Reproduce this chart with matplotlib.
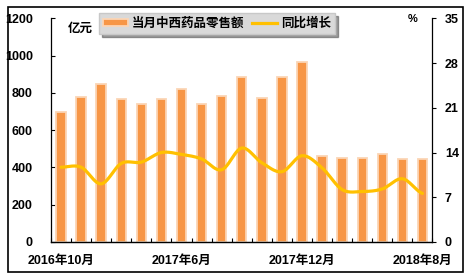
import numpy as np
import matplotlib
matplotlib.use('Agg')
import matplotlib.pyplot as plt
from matplotlib.patches import Rectangle
from matplotlib.lines import Line2D

plt.rcParams['font.family'] = ['Liberation Sans', 'Noto Sans CJK SC']
plt.rcParams['font.weight'] = 'bold'

months = ['2016年10月', '2016年11月', '2016年12月', '2017年3月', '2017年4月', '2017年5月',
          '2017年6月', '2017年7月', '2017年8月', '2017年9月', '2017年10月', '2017年11月',
          '2017年12月', '2018年3月', '2018年4月', '2018年5月', '2018年6月', '2018年7月',
          '2018年8月']
sales = [695, 780, 850, 765, 740, 765, 820, 740, 785, 885, 770, 883, 965,
         461, 452, 449, 472, 446, 446]
growth = [11.7, 11.7, 9.1, 12.3, 12.5, 14.0, 13.7, 13.0, 11.3, 14.7, 12.4, 11.0, 13.5,
          11.6, 8.2, 7.9, 8.3, 9.9, 7.6]
shown_labels = ['2016年10月', '2017年6月', '2017年12月', '2018年8月']
left_ticks = [0, 200, 400, 600, 800, 1000, 1200]
right_ticks = [0, 7, 14, 21, 28, 35]

BAR = '#F79646'
BAR_EDGE = '#FBD5B5'
LINE = '#FFC000'


def catmull_rom(x, y, n=24):
    x = np.asarray(x, float)
    y = np.asarray(y, float)
    xs, ys = [], []
    m = len(x)
    for i in range(m - 1):
        p0 = y[i - 1] if i > 0 else y[i]
        p1, p2 = y[i], y[i + 1]
        p3 = y[i + 2] if i + 2 < m else y[i + 1]
        t = np.linspace(0, 1, n, endpoint=(i == m - 2))
        seg = 0.5 * ((2 * p1) + (-p0 + p2) * t + (2 * p0 - 5 * p1 + 4 * p2 - p3) * t ** 2
                     + (-p0 + 3 * p1 - 3 * p2 + p3) * t ** 3)
        xs.append(x[i] + (x[i + 1] - x[i]) * t)
        ys.append(seg)
    return np.concatenate(xs), np.concatenate(ys)


fig = plt.figure(figsize=(4.71, 2.80), dpi=100)
ax = fig.add_axes([51 / 471, 38 / 280, (432.5 - 51) / 471, (242 - 18.3) / 280])
ax2 = ax.twinx()

x = np.arange(len(months))
ax.bar(x, sales, width=0.47, color=BAR, edgecolor=BAR_EDGE, linewidth=1.3, zorder=2)
ax.set_ylim(0, 1200)
ax.set_xlim(-0.5, len(months) - 0.5)
ax.set_yticks(left_ticks)
ax.set_yticklabels([str(v) for v in left_ticks], fontsize=9, fontweight='bold')
ax.tick_params(axis='y', direction='in', length=3, pad=13, width=0.8)

idx = [months.index(l) for l in shown_labels]
ax.set_xticks(idx)
ax.set_xticklabels(shown_labels, fontsize=9, fontweight='bold')
ax.tick_params(axis='x', which='major', length=0, pad=9)
ax.set_xticks(np.arange(-0.5, len(months)), minor=True)
ax.tick_params(axis='x', which='minor', direction='in', length=3, width=0.8)

sx, sy = catmull_rom(x, growth)
ax2.plot(sx, sy, color=LINE, lw=2.3, zorder=3, solid_capstyle='round')
ax2.set_ylim(0, 35)
ax2.set_yticks(right_ticks)
ax2.set_yticklabels([str(v) for v in right_ticks], fontsize=9, fontweight='bold')
ax2.tick_params(axis='y', direction='out', length=3, pad=6, width=0.8)

for a in (ax, ax2):
    a.spines['top'].set_visible(False)
    for s in a.spines.values():
        s.set_linewidth(0.9)
ax2.spines['left'].set_visible(False)
ax.spines['right'].set_visible(False)
ax.spines['bottom'].set_color('#303838')

fig.text(68 / 471, 1 - 29 / 280, '亿元', fontsize=9, fontweight='bold', va='center', ha='left')
fig.text(413 / 471, 1 - 19 / 280, '%', fontsize=8, fontweight='bold', va='center', ha='center')

handles = [Rectangle((0, 0), 1, 1, facecolor=BAR, edgecolor=BAR_EDGE, linewidth=1.3),
           Line2D([], [], color=LINE, lw=2.3)]
leg = ax2.legend(handles, ['当月中西药品零售额', '同比增长'], ncol=2, loc='upper left',
                 bbox_to_anchor=(99 / 471, 1 - 13 / 280), bbox_transform=fig.transFigure,
                 borderaxespad=0, borderpad=0.35, fancybox=False, shadow=True,
                 framealpha=1, facecolor='#D9D9D9', edgecolor='#C8C8C8',
                 handlelength=2.0, handleheight=0.5, handletextpad=0.3, columnspacing=0.6,
                 prop={'size': 9, 'weight': 'bold'})
leg.set_zorder(10)

fig.patches.append(Rectangle((8 / 471, 8 / 280), (463 - 8) / 471, (273 - 8) / 280,
                             transform=fig.transFigure, fill=False, ec='black', lw=1.2))

fig.savefig('out.png', dpi=100)
